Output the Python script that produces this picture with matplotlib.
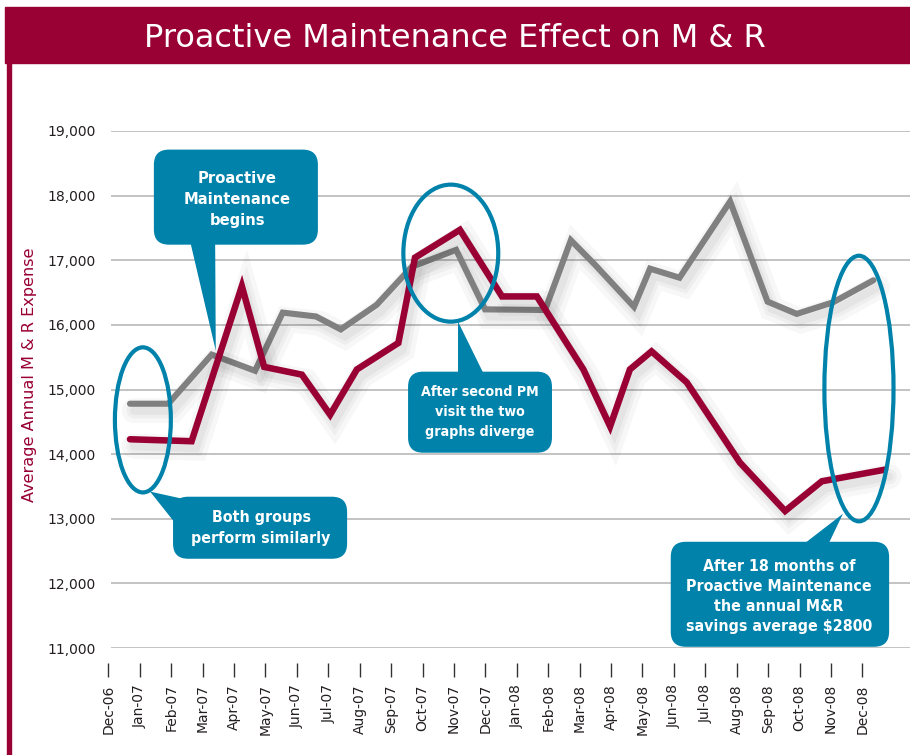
import matplotlib
matplotlib.use('Agg')
import matplotlib.pyplot as plt
import matplotlib.patheffects as pe
from matplotlib import font_manager as fm
from matplotlib.patches import Ellipse, FancyBboxPatch, Polygon, Rectangle

months = ['Dec-06', 'Jan-07', 'Feb-07', 'Mar-07', 'Apr-07', 'May-07', 'Jun-07',
          'Jul-07', 'Aug-07', 'Sep-07', 'Oct-07', 'Nov-07', 'Dec-07', 'Jan-08',
          'Feb-08', 'Mar-08', 'Apr-08', 'May-08', 'Jun-08', 'Jul-08', 'Aug-08',
          'Sep-08', 'Oct-08', 'Nov-08', 'Dec-08']
y_ticks = [11000, 12000, 13000, 14000, 15000, 16000, 17000, 18000, 19000]

# x = months after Dec-06 (fractional)
gray_x = [0.69, 1.91, 3.29, 4.67, 5.55, 6.61, 7.40, 8.54, 9.66, 11.07, 11.99,
          13.90, 14.72, 15.49, 16.73, 17.24, 18.18, 19.79, 20.98, 21.91, 23.07, 24.35]
gray_cost = [14780, 14780, 15540, 15290, 16190, 16130, 15930, 16310, 16900, 17160, 16240,
             16230, 17310, 16930, 16280, 16870, 16730, 17910, 16360, 16170, 16350, 16690]

red_x = [0.69, 2.65, 4.25, 4.96, 6.16, 7.06, 7.91, 9.23, 9.76, 11.19, 12.53,
         13.64, 15.12, 15.97, 16.60, 17.29, 18.41, 20.10, 21.54, 22.71, 24.72]
red_cost = [14230, 14200, 16600, 15350, 15230, 14610, 15310, 15720, 17040, 17470, 16440,
            16440, 15310, 14430, 15310, 15590, 15110, 13870, 13120, 13580, 13760]

CRIMSON = '#990033'
TEAL = '#0082aa'

# condensed bold face for the callouts if one is installed
stretches = {f.stretch for f in fm.fontManager.ttflist if f.name == 'DejaVu Sans'}
has_condensed = any(s in ('condensed', 'semi-condensed', 700, 600) for s in stretches)
if has_condensed:
    callout_font = dict(family='DejaVu Sans', stretch='condensed')
    scale = 1.0
else:
    callout_font = dict(family='Liberation Sans')
    scale = 0.95

fig = plt.figure(figsize=(9.1, 7.55), dpi=100)

# header band and left border
fig.patches.append(Rectangle((0.0055, 0.9166), 0.9945, 0.0741, transform=fig.transFigure,
                             color=CRIMSON, zorder=0))
fig.patches.append(Rectangle((0.0077, 0.0), 0.0044, 0.9166, transform=fig.transFigure,
                             color=CRIMSON, zorder=0))
fig.text(0.5, 1 - 47 / 755, 'Proactive Maintenance Effect on M & R', color='white',
         fontsize=23, ha='center', va='baseline')
fig.text(30 / 910, 1 - 375 / 755, 'Average Annual M & R Expense', color=CRIMSON,
         fontsize=11.6, rotation=90, ha='center', va='center')

ax = fig.add_axes([0.1173, 0.1417, 0.8822, 0.6848])
ax.set_xlim(-0.05, 25.5)
ax.set_ylim(11000, 19000)
for s in ax.spines.values():
    s.set_visible(False)
ax.spines['bottom'].set_position(('outward', 11))

ax.hlines(y_ticks, 0.08, 25.5, color='#b3b3b3', lw=1.1, zorder=1)

ax.set_yticks(y_ticks)
ax.set_yticklabels([f'{v:,}' for v in y_ticks], fontsize=10, color='#231f20')
ax.tick_params(axis='y', length=0, pad=8)
ax.set_xticks(range(len(months)))
ax.set_xticklabels(months, rotation=90, fontsize=10, color='#231f20')
ax.tick_params(axis='x', length=10, width=1, color='#333333', pad=5)

# soft drop shadow under the lines
shadow = [pe.SimpleLineShadow(offset=(3, -5), shadow_color='k', alpha=a, linewidth=w)
          for a, w in ((0.03, 18), (0.035, 11), (0.04, 6))] + [pe.Normal()]
ax.plot(gray_x, gray_cost, color='#808080', lw=4.4, solid_capstyle='round',
        solid_joinstyle='miter', path_effects=shadow, zorder=3)
ax.plot(red_x, red_cost, color=CRIMSON, lw=4.7, solid_capstyle='round',
        solid_joinstyle='miter', path_effects=shadow, zorder=4)

# highlight ellipses
for cx, cy, w, h in [(1.10, 14530, 1.78, 2245), (10.90, 17110, 3.02, 2120),
                     (23.89, 15015, 2.20, 4110)]:
    ax.add_patch(Ellipse((cx, cy), w, h, fill=False, ec=TEAL, lw=3, zorder=5))

# callouts: box (x0, x1, y0, y1), pointer triangle, text position, text, size, spacing
aspect = (1 / 0.0646) / (1 / 31.42)
callouts = [
    ((1.45, 6.67, 17241, 18712), [(2.60, 17300), (3.40, 17300), (3.42, 15600)],
     (4.10, 17938), 'Proactive\nMaintenance\nbegins', 11.8, 1.5),
    ((9.54, 14.12, 14022, 15276), [(11.13, 15200), (11.99, 15200), (11.13, 16050)],
     (11.83, 14656), 'After second PM\nvisit the two\ngraphs diverge', 10.2, 1.55),
    ((2.06, 7.60, 12381, 13341), [(2.45, 13300), (2.10, 12950), (1.33, 13420)],
     (4.86, 12861), 'Both groups\nperform similarly', 11.4, 1.5),
    ((17.90, 24.85, 11019, 12644), [(22.11, 12600), (22.91, 12600), (23.38, 13077)],
     (21.34, 11800), 'After 18 months of\nProactive Maintenance\nthe annual M&R\nsavings average $2800',
     11.4, 1.42),
]
for (x0, x1, y0, y1), tri, (tx, ty), txt, fs, ls in callouts:
    ax.add_patch(FancyBboxPatch((x0, y0), x1 - x0, y1 - y0,
                                boxstyle='round,pad=0,rounding_size=0.48',
                                mutation_aspect=aspect, fc=TEAL, ec='none', zorder=6))
    ax.add_patch(Polygon(tri, closed=True, fc=TEAL, ec='none', zorder=6))
    ax.text(tx, ty, txt, color='white', fontsize=fs * scale, fontweight='bold',
            ha='center', va='center', linespacing=ls, zorder=7, **callout_font)

fig.savefig('out.png', dpi=100)
